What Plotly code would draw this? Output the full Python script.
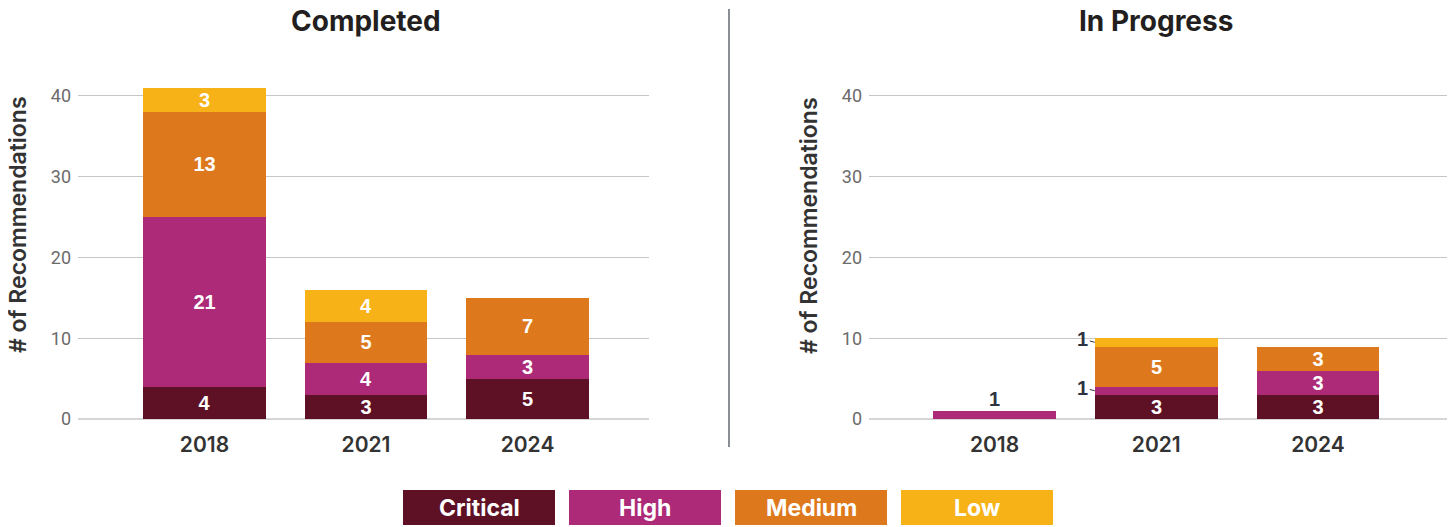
import plotly.graph_objects as go

# page body has an 8px margin; size the figure to fill the rest of the window
OFF = 8
W, H = 1455 - OFF, 527 - OFF

years = ["2018", "2021", "2024"]
levels = ["Critical", "High", "Medium", "Low"]
level_colors = ["#5e1125", "#ac2a77", "#de781c", "#f6b217"]

completed_critical = [4, 3, 5]
completed_high = [21, 4, 3]
completed_medium = [13, 5, 7]
completed_low = [3, 4, 0]

progress_critical = [0, 3, 3]
progress_high = [1, 1, 3]
progress_medium = [0, 5, 3]
progress_low = [0, 1, 0]

panel_titles = ["Completed", "In Progress"]
y_title = "# of Recommendations"
y_ticks = [0, 10, 20, 30, 40]

panels = [
    [completed_critical, completed_high, completed_medium, completed_low],
    [progress_critical, progress_high, progress_medium, progress_low],
]

TITLE_FONT = "Inter, 'Open Sans', sans-serif"
LABEL_FONT = "'Liberation Sans', Arial, sans-serif"
DARK = "#2e3341"
BAR_W = 0.76


def px(x):
    return (x - OFF) / W


def py(y):
    return 1 - (y - OFF) / H


fig = go.Figure()
annotations = []
xpos = list(range(len(years)))

for p, series in enumerate(panels):
    xa = "x" if p == 0 else "x2"
    ya = "y" if p == 0 else "y2"
    for li, vals in enumerate(series):
        texts = [str(v) if v >= 2 else "" for v in vals]
        fig.add_trace(go.Bar(
            x=xpos, y=vals, width=BAR_W, name=levels[li],
            marker=dict(color=level_colors[li], line=dict(width=0)),
            text=texts, textposition="inside", insidetextanchor="middle",
            constraintext="none", textangle=0,
            textfont=dict(family=LABEL_FONT, size=20, color="white", weight="bold"),
            xaxis=xa, yaxis=ya, showlegend=False, hoverinfo="skip",
        ))
    # small segments labelled outside
    for i in xpos:
        stack = [s[i] for s in series]
        nonzero = [v for v in stack if v > 0]
        base = 0
        for li, v in enumerate(stack):
            if 0 < v < 2:
                if len(nonzero) == 1:
                    annotations.append(dict(
                        x=i, y=base + v, xref=xa, yref=ya, text=str(v),
                        showarrow=False, yanchor="bottom", yshift=-1,
                        font=dict(family=LABEL_FONT, size=20, color=DARK, weight="bold"),
                    ))
                else:
                    annotations.append(dict(
                        x=i - BAR_W / 2, y=base + v / 2, xref=xa, yref=ya, text=str(v),
                        showarrow=True, arrowhead=0, arrowwidth=1, arrowcolor=DARK,
                        ax=-12, ay=-3, standoff=0,
                        font=dict(family=LABEL_FONT, size=20, color=DARK, weight="bold"),
                    ))
            base += v
    # panel title
    annotations.append(dict(
        x=1, y=py(21), xref=xa, yref="paper", text=panel_titles[p], showarrow=False,
        font=dict(family=TITLE_FONT, size=28, color="#231f20", weight="bold"),
        xanchor="center", yanchor="middle",
    ))

# y axis titles
for xc in (18, 809):
    annotations.append(dict(
        x=px(xc), y=py(225), xref="paper", yref="paper", text=y_title,
        showarrow=False, textangle=-90, xanchor="center", yanchor="middle",
        font=dict(family=TITLE_FONT, size=23, color="#333333", weight=600),
    ))

# legend boxes
shapes = []
box_w, box_h, gap = 152, 35, 14
lx0, ly0 = 403, 490
for li, name in enumerate(levels):
    x0 = lx0 + li * (box_w + gap)
    shapes.append(dict(type="rect", xref="paper", yref="paper",
                       x0=px(x0), x1=px(x0 + box_w), y0=py(ly0 + box_h), y1=py(ly0),
                       fillcolor=level_colors[li], line=dict(width=0)))
    annotations.append(dict(
        x=px(x0 + box_w / 2), y=py(ly0 + box_h / 2), xref="paper", yref="paper",
        text=name, showarrow=False, xanchor="center", yanchor="middle",
        font=dict(family=TITLE_FONT, size=23, color="white", weight="bold"),
    ))

# divider
shapes.append(dict(type="line", xref="paper", yref="paper",
                   x0=px(729), x1=px(729), y0=py(9), y1=py(447),
                   line=dict(color="#8b8e95", width=2)))

y_dom = [py(419), py(419 - 43 * 8.075)]
xaxis_common = dict(
    tickmode="array", tickvals=xpos, ticktext=years,
    showgrid=False, zeroline=False, showline=False, ticks="",
    tickfont=dict(family=TITLE_FONT, size=21, color="#333333", weight=600),
    ticklabelstandoff=11, fixedrange=True, automargin=False,
)
yaxis_common = dict(
    range=[0, 43], tickmode="array", tickvals=y_ticks,
    showgrid=True, gridcolor="#c6c6c6", gridwidth=1,
    zeroline=True, zerolinecolor="#d6d6d6", zerolinewidth=2,
    showline=False, ticks="",
    tickfont=dict(family="Roboto, sans-serif", size=18, color="#6b6b6b"),
    ticklabelstandoff=6, domain=y_dom, fixedrange=True, automargin=False,
)

fig.update_layout(
    width=W, height=H,
    margin=dict(l=0, r=0, t=0, b=0, autoexpand=False),
    paper_bgcolor="white", plot_bgcolor="white",
    barmode="stack", bargap=0,
    xaxis=dict(domain=[px(78), px(649)], range=[-0.783, 2.752], anchor="y", **xaxis_common),
    yaxis=dict(anchor="x", **yaxis_common),
    xaxis2=dict(domain=[px(869), px(1450)], range=[-0.776, 2.816], anchor="y2", **xaxis_common),
    yaxis2=dict(anchor="x2", **yaxis_common),
    annotations=annotations, shapes=shapes,
)

fig.write_html("out.html")
